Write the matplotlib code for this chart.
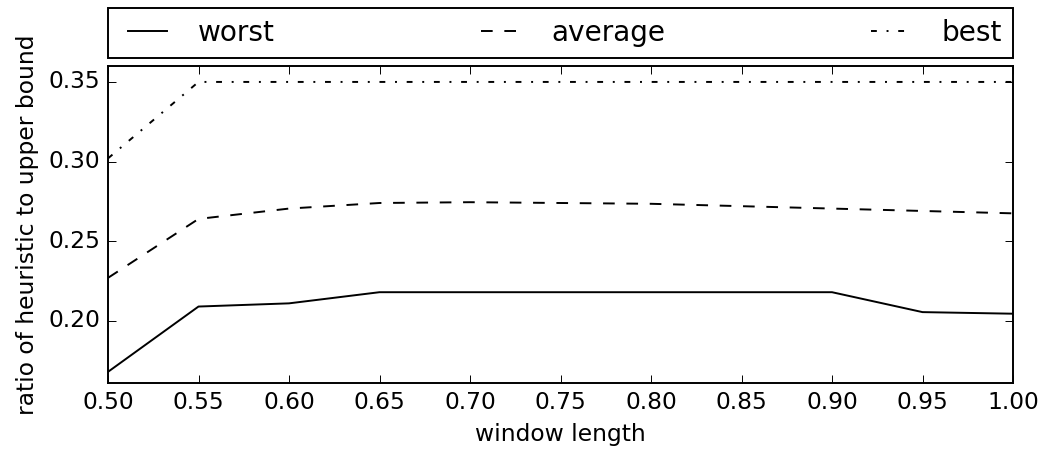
import matplotlib
matplotlib.use("Agg")
import matplotlib.pyplot as plt

plt.style.use('classic')

window = [0.50, 0.55, 0.60, 0.65, 0.70, 0.75, 0.80, 0.85, 0.90, 0.95, 1.00]
worst = [0.168, 0.209, 0.211, 0.218, 0.218, 0.218, 0.218, 0.218, 0.218, 0.2055, 0.2045]
average = [0.227, 0.264, 0.2705, 0.274, 0.2745, 0.274, 0.2735, 0.272, 0.2705, 0.269, 0.2675]
best = [0.302, 0.35, 0.35, 0.35, 0.35, 0.35, 0.35, 0.35, 0.35, 0.35, 0.35]

dpi = 140
fig = plt.figure(figsize=(1045 / dpi, 458 / dpi), dpi=dpi, facecolor='white')
ax = fig.add_axes([108 / 1045, 1 - 383 / 458, 905 / 1045, 317 / 458])

ax.plot(window, worst, 'k-', label='worst')
ax.plot(window, average, 'k--', label='average')
ax.plot(window, best, 'k-.', label='best')

ax.set_xlim(0.5, 1.0)
ax.set_ylim(0.161, 0.36)
ax.set_xticks(window)
ax.set_yticks([0.20, 0.25, 0.30, 0.35])
ax.set_xlabel('window length')
ax.set_ylabel('ratio of heuristic to upper bound')

ax.legend(bbox_to_anchor=(0., 1.025, 1., .102), loc='lower left', ncol=3,
          mode='expand', borderaxespad=0.)

fig.savefig('out.png', dpi=dpi, facecolor='white')
